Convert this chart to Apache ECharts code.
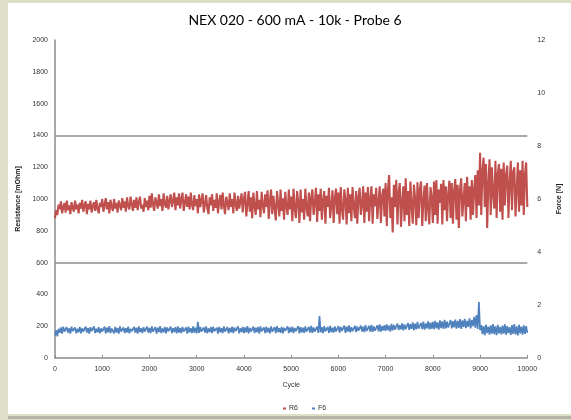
<!DOCTYPE html>
<html>
<head>
<meta charset="utf-8">
<script src="https://cdn.jsdelivr.net/npm/echarts@6/dist/echarts.min.js"></script>
<style>
html,body{margin:0;padding:0;background:#fff;}
#chart{width:571px;height:420px;}
</style>
</head>
<body>
<div id="chart"></div>
<script>
const titleText = "NEX 020 - 600 mA - 10k - Probe 6";
const seriesNames = ["R6", "F6"];
const cycleStep = 25;
const leftTicks = [0, 200, 400, 600, 800, 1000, 1200, 1400, 1600, 1800, 2000];
const rightTicks = [0, 2, 4, 6, 8, 10, 12];
const xTicks = [0, 1000, 2000, 3000, 4000, 5000, 6000, 7000, 8000, 9000, 10000];
const gridLineValues = [600, 1400];

// Resistance [mOhm], one row per 500 cycles (sample every 25 cycles)
const resistance = [
  880, 930, 900, 965, 935, 985, 910, 950, 975, 915, 990, 930, 960, 905, 980, 945, 920, 990, 935, 965,
  910, 975, 940, 995, 920, 960, 985, 905, 970, 935, 990, 915, 955, 980, 925, 995, 940, 910, 975, 950,
  1000, 920, 965, 1005, 935, 980, 910, 995, 950, 925, 1000, 940, 975, 915, 990, 960, 930, 1005, 945, 985,
  920, 1010, 955, 935, 1015, 970, 925, 995, 945, 1010, 930, 980, 1015, 940, 965, 920, 1005, 950, 990, 930,
  1020, 945, 1035, 965, 925, 1010, 980, 940, 1030, 955, 1000, 925, 1035, 970, 945, 1020, 935, 990, 1030, 950,
  985, 1040, 930, 1010, 960, 1035, 940, 1000, 1040, 925, 975, 1030, 950, 1015, 935, 1040, 965, 930, 1025, 955,
  1000, 910, 1030, 950, 990, 1035, 915, 970, 1025, 940, 905, 1010, 960, 1030, 925, 995, 945, 1035, 910, 980,
  1025, 935, 1040, 960, 905, 1015, 980, 930, 1035, 950, 1000, 910, 1040, 965, 925, 1020, 940, 985, 1035, 915,
  1000, 1045, 890, 970, 1050, 920, 1010, 880, 1040, 955, 900, 1050, 935, 995, 885, 1045, 960, 910, 1030, 950,
  1055, 875, 990, 1060, 905, 1020, 945, 865, 1050, 970, 890, 1060, 925, 1005, 870, 1045, 955, 900, 1060, 935,
  1015, 860, 1065, 940, 880, 1050, 985, 850, 1060, 915, 1000, 870, 1065, 950, 890, 1040, 860, 1010, 1060, 900,
  975, 1070, 855, 1030, 925, 1065, 870, 990, 1050, 845, 1020, 950, 1070, 880, 960, 1055, 850, 1005, 1065, 905,
  1040, 845, 1075, 935, 870, 1060, 995, 840, 1070, 910, 1030, 860, 1075, 950, 880, 1050, 845, 1010, 1070, 900,
  965, 1080, 850, 1040, 920, 1075, 860, 1000, 1080, 845, 1030, 955, 1070, 875, 985, 1080, 850, 1020, 1065, 890,
  1100, 830, 1060, 1150, 880, 1010, 790, 1090, 950, 1120, 840, 1040, 1100, 825, 980, 1080, 860, 1130, 900, 1050,
  830, 1110, 960, 845, 1090, 1000, 835, 1105, 880, 1060, 1110, 830, 990, 1085, 860, 1100, 940, 840, 1075, 1010,
  850, 1110, 900, 1120, 845, 1060, 975, 1095, 840, 1120, 930, 1080, 860, 1030, 1115, 880, 1100, 845, 1050, 1125,
  870, 1090, 818, 1060, 1130, 890, 1000, 1100, 860, 1140, 950, 1080, 870, 1120, 900, 1060, 1150, 880, 1180, 960,
  1290, 900, 1180, 1260, 950, 1220, 818, 1100, 1250, 900, 1200, 1030, 940, 1240, 880, 1160, 1220, 920, 1190, 870,
  1230, 960, 1150, 1210, 880, 1100, 1240, 930, 1170, 1200, 890, 1060, 1230, 920, 1180, 960, 1240, 900, 1150, 1230,
  950
];

// Force [N], one row per 500 cycles (sample every 25 cycles)
const force = [
  0.85, 1.05, 0.82, 1.10, 0.95, 1.15, 0.92, 1.18, 1.00, 0.94, 1.16, 0.96, 1.12, 0.92, 1.18, 1.02, 0.95, 1.15, 0.93, 1.10,
  0.97, 1.17, 0.93, 1.12, 1.00, 0.94, 1.18, 0.96, 1.13, 0.92, 1.16, 1.01, 0.95, 1.19, 0.94, 1.10, 0.97, 1.16, 0.93, 1.12,
  1.00, 0.95, 1.18, 0.93, 1.14, 0.97, 1.20, 0.94, 1.11, 1.02, 0.93, 1.17, 0.96, 1.13, 0.92, 1.19, 1.00, 0.95, 1.15, 0.94,
  1.12, 0.97, 1.18, 0.93, 1.10, 1.01, 0.94, 1.17, 0.96, 1.14, 0.92, 1.19, 0.98, 1.12, 0.94, 1.16, 1.00, 0.93, 1.18, 0.96,
  1.13, 0.94, 1.19, 1.00, 0.95, 1.16, 0.92, 1.14, 0.98, 1.20, 0.94, 1.11, 0.97, 1.17, 0.93, 1.15, 1.01, 0.95, 1.18, 0.94,
  1.12, 0.98, 1.16, 0.93, 1.19, 0.96, 1.13, 0.94, 1.17, 1.00, 0.95, 1.15, 0.92, 1.18, 0.97, 1.12, 0.94, 1.19, 0.96, 1.14,
  0.93, 1.36, 0.95, 1.17, 1.00, 0.94, 1.15, 0.96, 1.19, 0.93, 1.12, 0.98, 1.16, 0.94, 1.18, 1.01, 0.95, 1.14, 0.92, 1.17,
  0.97, 1.12, 0.94, 1.19, 1.00, 0.95, 1.16, 0.93, 1.13, 0.97, 1.18, 0.94, 1.15, 1.01, 0.96, 1.19, 0.93, 1.12, 0.98, 1.17,
  0.94, 1.15, 0.97, 1.20, 0.93, 1.13, 1.00, 0.95, 1.18, 0.94, 1.14, 0.98, 1.17, 0.92, 1.19, 1.01, 0.96, 1.15, 0.94, 1.18,
  0.97, 1.13, 0.93, 1.19, 1.00, 0.95, 1.16, 0.94, 1.20, 0.98, 1.12, 0.95, 1.17, 0.93, 1.14, 1.02, 0.96, 1.19, 0.94, 1.15,
  0.98, 1.18, 0.94, 1.13, 1.01, 0.96, 1.20, 0.93, 1.16, 0.97, 1.14, 0.95, 1.19, 1.00, 0.94, 1.17, 0.96, 1.21, 0.95, 1.15,
  1.00, 0.96, 1.18, 0.95, 1.58, 0.97, 1.16, 0.94, 1.20, 1.01, 0.96, 1.17, 0.95, 1.21, 0.98, 1.14, 0.96, 1.19, 1.00, 0.97,
  1.20, 0.96, 1.17, 1.02, 0.97, 1.22, 0.95, 1.18, 1.00, 1.23, 0.97, 1.16, 1.01, 0.96, 1.21, 0.98, 1.19, 1.03, 0.97, 1.22,
  1.00, 1.18, 0.98, 1.24, 1.02, 0.97, 1.21, 1.00, 1.25, 0.99, 1.19, 1.03, 0.98, 1.23, 1.01, 1.27, 1.00, 1.20, 1.04, 1.24,
  1.02, 1.27, 1.05, 1.22, 1.00, 1.29, 1.04, 1.25, 1.07, 1.02, 1.30, 1.05, 1.24, 1.08, 1.31, 1.04, 1.27, 1.09, 1.03, 1.32,
  1.06, 1.28, 1.10, 1.34, 1.05, 1.30, 1.08, 1.36, 1.11, 1.06, 1.32, 1.09, 1.37, 1.07, 1.30, 1.12, 1.38, 1.08, 1.33, 1.10,
  1.36, 1.09, 1.40, 1.12, 1.34, 1.07, 1.42, 1.13, 1.38, 1.10, 1.44, 1.12, 1.37, 1.15, 1.09, 1.43, 1.12, 1.39, 1.16, 1.45,
  1.11, 1.40, 1.14, 1.47, 1.10, 1.42, 1.17, 1.48, 1.13, 1.40, 1.18, 1.50, 1.12, 1.44, 1.20, 1.55, 1.14, 1.62, 1.10, 2.11,
  1.05, 1.24, 0.90, 1.20, 0.86, 1.26, 0.94, 1.18, 0.88, 1.23, 0.92, 1.28, 0.90, 1.19, 0.86, 1.25, 0.93, 1.17, 0.89, 1.22,
  0.92, 1.27, 0.88, 1.20, 0.94, 1.16, 0.87, 1.24, 0.91, 1.28, 0.89, 1.19, 0.85, 1.25, 0.93, 1.18, 0.88, 1.23, 0.91, 1.20,
  0.95
];

const chart = echarts.init(document.getElementById('chart'), null, {renderer: 'canvas'});
const labelFont = {fontSize: 7, color: '#333', fontFamily: 'Liberation Sans'};

chart.setOption({
  backgroundColor: '#ffffff',
  animation: false,
  title: {
    text: titleText,
    left: 290, textAlign: 'center', top: 8,
    textStyle: {fontSize: 14, fontWeight: 'normal', color: '#000', fontFamily: 'Lato'}
  },
  graphic: [
    {type: 'rect', shape: {x: 0, y: 0, width: 8, height: 420}, style: {fill: '#dfdfc8'}, silent: true},
    {type: 'rect', shape: {x: 0, y: 0, width: 571, height: 3}, style: {fill: '#dfdfc8'}, silent: true},
    {type: 'rect', shape: {x: 0, y: 414, width: 571, height: 6}, style: {fill: '#dfdfc8'}, silent: true},
    {type: 'rect', shape: {x: 8, y: 416, width: 563, height: 3}, style: {fill: '#b4b4a8'}, silent: true}
  ],
  legend: {
    data: seriesNames,
    left: 278, top: 400,
    itemWidth: 3, itemHeight: 2, itemGap: 14,
    icon: 'rect',
    textStyle: {fontSize: 7, color: '#333', fontFamily: 'Liberation Sans', padding: [0, 0, 0, -2]}
  },
  grid: {left: 55, right: 36, top: 40, bottom: 62},
  xAxis: {
    type: 'value', min: 0, max: 10000, interval: 1000,
    name: 'Cycle', nameLocation: 'middle', nameGap: 24,
    nameTextStyle: {fontSize: 7, color: '#333', fontFamily: 'Liberation Sans'},
    axisLine: {lineStyle: {color: '#8c8c8c', width: 1.5}},
    axisTick: {show: true, inside: true, length: 3, lineStyle: {color: '#8c8c8c'}},
    axisLabel: Object.assign({margin: 8, formatter: v => xTicks.includes(v) ? String(v) : ''}, labelFont),
    splitLine: {show: false}
  },
  yAxis: [
    {
      type: 'value', min: 0, max: 2000, interval: 200, position: 'left',
      name: 'Resistance [mOhm]', nameLocation: 'middle', nameGap: 33,
      nameTextStyle: {fontSize: 7, color: '#222', fontWeight: 'bold', fontFamily: 'Liberation Sans'},
      axisLine: {show: true, lineStyle: {color: '#8c8c8c', width: 1.5}},
      axisTick: {show: false},
      axisLabel: Object.assign({margin: 7, formatter: v => leftTicks.includes(v) ? String(v) : ''}, labelFont),
      splitLine: {show: false}
    },
    {
      type: 'value', min: 0, max: 12, interval: 2, position: 'right',
      name: 'Force [N]', nameLocation: 'middle', nameGap: 26,
      nameTextStyle: {fontSize: 7, color: '#222', fontWeight: 'bold', fontFamily: 'Liberation Sans'},
      axisLine: {show: false},
      axisTick: {show: false},
      axisLabel: Object.assign({margin: 10, formatter: v => rightTicks.includes(v) ? String(v) : ''}, labelFont),
      splitLine: {show: false}
    }
  ],
  series: [
    {
      name: seriesNames[0], type: 'line', yAxisIndex: 0, symbol: 'none',
      lineStyle: {color: '#c0504d', width: 2.1, join: 'bevel'},
      itemStyle: {color: '#c0504d'},
      data: resistance.map((v, i) => [i * cycleStep, v]),
      markLine: {
        silent: true, symbol: 'none', label: {show: false},
        lineStyle: {color: '#8c8c8c', width: 1.5, type: 'solid'},
        data: gridLineValues.map(v => ({yAxis: v}))
      },
      z: 3
    },
    {
      name: seriesNames[1], type: 'line', yAxisIndex: 1, symbol: 'none',
      lineStyle: {color: '#4f81bd', width: 1.7, join: 'bevel'},
      itemStyle: {color: '#4f81bd'},
      data: force.map((v, i) => [i * cycleStep, v]),
      z: 4
    }
  ]
});
</script>
</body>
</html>
